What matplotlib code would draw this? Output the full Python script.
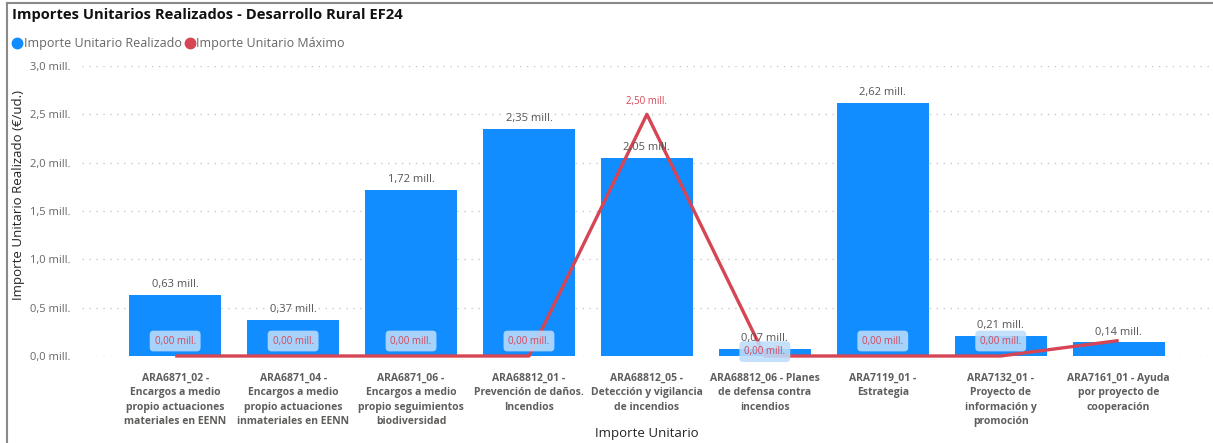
import matplotlib
matplotlib.use("Agg")
import matplotlib.pyplot as plt
from matplotlib.lines import Line2D

plt.rcParams['font.family'] = ['Open Sans', 'DejaVu Sans']

categories = [
    "ARA6871_02 -\nEncargos a medio\npropio actuaciones\nmateriales en EENN",
    "ARA6871_04 -\nEncargos a medio\npropio actuaciones\ninmateriales en EENN",
    "ARA6871_06 -\nEncargos a medio\npropio seguimientos\nbiodiversidad",
    "ARA68812_01 -\nPrevención de daños.\nIncendios",
    "ARA68812_05 -\nDetección y vigilancia\nde incendios",
    "ARA68812_06 - Planes\nde defensa contra\nincendios",
    "ARA7119_01 -\nEstrategia",
    "ARA7132_01 -\nProyecto de\ninformación y\npromoción",
    "ARA7161_01 - Ayuda\npor proyecto de\ncooperación",
]
realizado = [0.63, 0.37, 1.72, 2.35, 2.05, 0.07, 2.62, 0.21, 0.14]
maximo = [0.0, 0.0, 0.0, 0.0, 2.50, 0.0, 0.0, 0.0, 0.16]
y_ticks = [0.0, 0.5, 1.0, 1.5, 2.0, 2.5, 3.0]

BLUE = "#118DFF"
RED = "#D64554"
W, H = 1213, 443

def fmt(v, nd=2):
    return f"{v:.{nd}f}".replace(".", ",") + " mill."

fig = plt.figure(figsize=(W / 100, H / 100), dpi=100)
ax = fig.add_axes([82 / W, (H - 356) / H, (W - 82) / W, 290 / H])

x = list(range(len(categories)))
ax.bar(x, realizado, width=0.78, color=BLUE, zorder=2)
ax.plot(x, maximo, color=RED, lw=2.4, zorder=3, solid_capstyle='butt', clip_on=False)

for xi, v in zip(x, realizado):
    ax.annotate(fmt(v), (xi, v), xytext=(0, 3.5), textcoords='offset points',
                ha='center', va='bottom', fontsize=8, color='#555555', zorder=5)

for i, (xi, v) in enumerate(zip(x, maximo)):
    if v > 0.5:
        ax.annotate(fmt(v), (xi, v), xytext=(0, 5), textcoords='offset points',
                    ha='center', va='bottom', fontsize=7, color=RED, zorder=5)
    elif v == 0:
        yoff = 0.045 if realizado[i] < 0.15 else 0.155
        ax.text(xi, v + yoff, fmt(v), ha='center', va='center', fontsize=7,
                color=RED, zorder=4,
                bbox=dict(boxstyle='round,pad=0.5,rounding_size=0.4',
                          fc='#BCDCFB', ec='none', alpha=0.88))

ax.set_xlim(-0.79, 8.80)
ax.set_ylim(0, 3.0)
ax.set_yticks(y_ticks)
ax.set_yticklabels([fmt(t, 1) for t in y_ticks], fontsize=8, color='#666666')
ax.set_xticks(x)
ax.set_xticklabels(categories, fontsize=7.5, fontweight='bold', color='#605E5C',
                   linespacing=1.45, va='top')
ax.tick_params(axis='both', length=0)
ax.tick_params(axis='y', pad=8)
ax.tick_params(axis='x', pad=12)
ax.grid(axis='y', color='#C8C8C8', linestyle=(0, (1, 4)), lw=1, zorder=0)
for s in ax.spines.values():
    s.set_visible(False)

fig.text(19 / W, 1 - 195 / H, "Importe Unitario Realizado (€/ud.)", rotation=90,
         ha='center', va='center', fontsize=9.5, color='#252423')
fig.text(647 / W, 1 - 434 / H, "Importe Unitario", ha='center', va='center',
         fontsize=9.5, color='#252423')
fig.text(12 / W, 1 - 15 / H, "Importes Unitarios Realizados - Desarrollo Rural EF24",
         ha='left', va='center', fontsize=10.6, fontweight='bold', color='#111111')

handles = [Line2D([], [], marker='o', ls='none', color=BLUE, markersize=7.5),
           Line2D([], [], marker='o', ls='none', color=RED, markersize=7.5)]
fig.legend(handles, ["Importe Unitario Realizado", "Importe Unitario Máximo"],
           loc='center left', bbox_to_anchor=(13 / W, 1 - 44 / H), ncol=2,
           frameon=False, fontsize=9, labelcolor='#666666', handlelength=0.7,
           handletextpad=0.15, columnspacing=0.3, borderaxespad=0, borderpad=0)

fig.add_artist(Line2D([7 / W, 7 / W], [0, 1 - 3 / H], color='#8A8A8A', lw=1.5,
                      transform=fig.transFigure))
fig.add_artist(Line2D([7 / W, 1], [1 - 3 / H, 1 - 3 / H], color='#8A8A8A', lw=1.5,
                      transform=fig.transFigure))

fig.savefig("out.png", dpi=100)
